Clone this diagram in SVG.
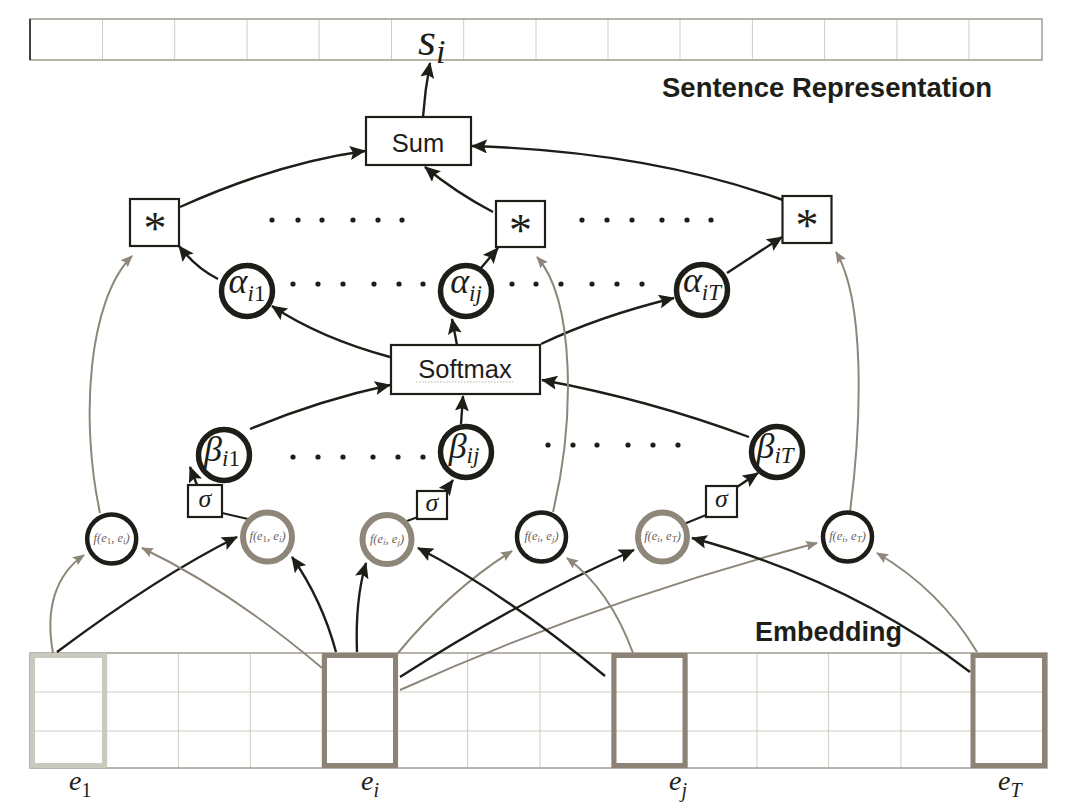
<svg xmlns="http://www.w3.org/2000/svg" width="1080" height="807" viewBox="0 0 1080 807">
<defs>
<marker id="ab" viewBox="0 0 16 14" refX="15" refY="7" markerWidth="16" markerHeight="14" orient="auto" markerUnits="userSpaceOnUse"><path d="M0,0 L16,7 L0,14 L3,7 Z" fill="#1e1e18"/></marker>
<marker id="ag" viewBox="0 0 12 10" refX="11" refY="5" markerWidth="12" markerHeight="10" orient="auto" markerUnits="userSpaceOnUse"><path d="M0,0 L12,5 L0,10 L2,5 Z" fill="#8f867a"/></marker>
<style>
.bg{fill:#ffffff}
.cell{stroke:#cfcdc2;stroke-width:1;fill:none}
.frame{stroke:#a19c90;stroke-width:1.5;fill:none}
.box{fill:#ffffff;stroke:#1e1e18;stroke-width:2.2}
.cd{fill:#ffffff;stroke:#1e1e18;stroke-width:5.5}
.fd{fill:#ffffff;stroke:#1e1e18;stroke-width:4.5}
.fg{fill:#ffffff;stroke:#8f867a;stroke-width:6}
.k{fill:none;stroke:#1e1e18;stroke-width:2.4;marker-end:url(#ab)}
.kn{fill:none;stroke:#1e1e18;stroke-width:2}
.g{fill:none;stroke:#8f867a;stroke-width:2;marker-end:url(#ag)}
.sans{font-family:'Liberation Sans',Arial,sans-serif;fill:#1e1e18}
.bold{font-family:'Liberation Sans',Arial,sans-serif;font-weight:bold;fill:#1e1e18}
.ser{font-family:'Liberation Serif','Times New Roman','DejaVu Serif',serif;font-style:italic;fill:#1e1e18}
.ast{font-family:'Liberation Serif','Times New Roman',serif;fill:#1e1e18;font-size:46px}
.ftx{font-family:'Liberation Serif','Times New Roman',serif;font-style:italic;fill:#6b6258;font-size:12.5px}
.dot{fill:#1e1e18}
</style>
</defs>
<rect class="bg" x="0" y="0" width="1080" height="807"/>

<g id="sentence-representation">
<path class="cell" d="M102.5,19V60M174.7,19V60M247,19V60M319,19V60M391.5,19V60M463.7,19V60M536,19V60M608,19V60M680,19V60M752.4,19V60M824.6,19V60M897,19V60M969,19V60"/>
<rect class="frame" x="30" y="19" width="1012" height="41"/>
<line x1="30" y1="19" x2="30" y2="60" stroke="#1e1e18" stroke-width="1.5"/>
<text class="ser" x="418" y="55" font-size="46">s<tspan font-size="34" dy="8">i</tspan></text>
<text class="bold" x="662" y="97" font-size="27.5">Sentence Representation</text>
</g>

<g id="embedding">
<path class="cell" d="M30,692H1047M30,731H1047M106.7,653V768M178.4,653V768M250.3,653V768M322,653V768M397.7,653V768M467.6,653V768M540,653V768M611.6,653V768M687.4,653V768M757,653V768M828.6,653V768M900.9,653V768M972,653V768"/>
<rect class="frame" x="30" y="653" width="1017" height="115"/>
<rect x="32.5" y="655.5" width="72" height="110" fill="none" stroke="#c9c9bd" stroke-width="5"/>
<rect x="324.5" y="655.5" width="71" height="110" fill="none" stroke="#8c8276" stroke-width="5"/>
<rect x="614" y="655.5" width="71" height="110" fill="none" stroke="#8c8276" stroke-width="5"/>
<rect x="973" y="655.5" width="71.5" height="110" fill="none" stroke="#8c8276" stroke-width="5"/>
<text class="bold" x="755" y="641" font-size="27">Embedding</text>
<text class="ser" x="69" y="790" font-size="28">e<tspan font-size="20" dy="7" font-style="normal">1</tspan></text>
<text class="ser" x="361" y="790" font-size="28">e<tspan font-size="20" dy="7">i</tspan></text>
<text class="ser" x="669" y="790" font-size="28">e<tspan font-size="20" dy="7">j</tspan></text>
<text class="ser" x="998" y="790" font-size="28">e<tspan font-size="20" dy="7">T</tspan></text>
</g>

<g id="connectors">
<path class="k" d="M423,117 Q425,90 430,63"/>
<path class="k" d="M180,207 C240,180 300,160 365,151"/>
<path class="k" d="M493,212 Q455,192 425,167"/>
<path class="k" d="M783,200 C700,170 600,150 472,146"/>
<path class="k" d="M218,279 Q196,268 179,246"/>
<path class="k" d="M481,268 L498,248"/>
<path class="k" d="M727,273 L782,237"/>
<path class="k" d="M390,357 Q320,338 272,306"/>
<path class="k" d="M457,345 L452,319"/>
<path class="k" d="M541,344 Q600,316 674,298"/>
<path class="k" d="M250,429 Q320,400 390,385"/>
<path class="k" d="M461,424 L463,396"/>
<path class="k" d="M749,437 Q650,400 542,380"/>
<path class="kn" d="M248,519 L222,513"/>
<path class="k" d="M197,485 L190,467"/>
<path class="kn" d="M407,521 L418,517"/>
<path class="k" d="M445,491 L453,480"/>
<path class="kn" d="M684,524 L706,515"/>
<path class="k" d="M737,487 L758,473"/>
<path class="g" d="M53,653 C45,610 55,575 84,555"/>
<path class="k" d="M57,652 Q160,575 237,537"/>
<path class="g" d="M322,668 Q230,590 142,548"/>
<path class="k" d="M336,652 Q322,600 292,557"/>
<path class="k" d="M357,652 Q355,600 366,563"/>
<path class="g" d="M398,653 Q450,590 512,551"/>
<path class="k" d="M400,677 Q520,600 634,550"/>
<path class="g" d="M400,690 Q600,600 817,543"/>
<path class="k" d="M605,676 Q500,590 418,548"/>
<path class="g" d="M633,653 Q610,590 567,558"/>
<path class="k" d="M970,672 Q850,580 692,538"/>
<path class="g" d="M977,652 Q940,590 877,553"/>
<path class="g" d="M100,513 C80,420 88,300 132,256"/>
<path class="g" d="M553,512 C575,420 575,300 537,257"/>
<path class="g" d="M850,512 C862,420 865,300 836,252"/>
</g>

<g id="sum">
<rect class="box" x="366" y="117" width="105" height="48"/>
<text class="sans" x="418" y="152" font-size="25.5" text-anchor="middle">Sum</text>
</g>
<g id="mul-1">
<rect class="box" x="130" y="199" width="49" height="47"/>
<text class="ast" x="155" y="244" text-anchor="middle">*</text>
</g>
<g id="mul-j">
<rect class="box" x="496" y="201" width="49" height="46"/>
<text class="ast" x="520.5" y="245.5" text-anchor="middle">*</text>
</g>
<g id="mul-T">
<rect class="box" x="782.5" y="196" width="49" height="47"/>
<text class="ast" x="807" y="241" text-anchor="middle">*</text>
</g>
<g id="dots">
<circle class="dot" cx="272" cy="220" r="2.6"/><circle class="dot" cx="298" cy="220" r="2.6"/><circle class="dot" cx="322" cy="220" r="2.6"/><circle class="dot" cx="353" cy="220" r="2.6"/><circle class="dot" cx="378" cy="220" r="2.6"/><circle class="dot" cx="402" cy="220" r="2.6"/>
<circle class="dot" cx="582" cy="220" r="2.6"/><circle class="dot" cx="607" cy="220" r="2.6"/><circle class="dot" cx="632" cy="220" r="2.6"/><circle class="dot" cx="662" cy="220" r="2.6"/><circle class="dot" cx="687" cy="220" r="2.6"/><circle class="dot" cx="711" cy="220" r="2.6"/>
<circle class="dot" cx="293" cy="284" r="2.6"/><circle class="dot" cx="318" cy="284" r="2.6"/><circle class="dot" cx="343" cy="284" r="2.6"/><circle class="dot" cx="374" cy="284" r="2.6"/><circle class="dot" cx="399" cy="284" r="2.6"/><circle class="dot" cx="423" cy="284" r="2.6"/>
<circle class="dot" cx="512" cy="284" r="2.6"/><circle class="dot" cx="536" cy="284" r="2.6"/><circle class="dot" cx="561" cy="284" r="2.6"/><circle class="dot" cx="592" cy="284" r="2.6"/><circle class="dot" cx="617" cy="284" r="2.6"/><circle class="dot" cx="642" cy="284" r="2.6"/>
<circle class="dot" cx="293" cy="457" r="2.6"/><circle class="dot" cx="318" cy="457" r="2.6"/><circle class="dot" cx="343" cy="457" r="2.6"/><circle class="dot" cx="373" cy="457" r="2.6"/><circle class="dot" cx="398" cy="457" r="2.6"/><circle class="dot" cx="423" cy="457" r="2.6"/>
<circle class="dot" cx="548" cy="445" r="2.6"/><circle class="dot" cx="573" cy="445" r="2.6"/><circle class="dot" cx="597" cy="445" r="2.6"/><circle class="dot" cx="628" cy="445" r="2.6"/><circle class="dot" cx="653" cy="445" r="2.6"/><circle class="dot" cx="678" cy="445" r="2.6"/>
</g>
<g id="alpha-i1">
<circle class="cd" cx="247" cy="291" r="25.5"/>
<text class="ser" x="247" y="293" font-size="36" text-anchor="middle">α<tspan font-size="23" dy="8">i</tspan><tspan font-size="23" font-style="normal">1</tspan></text>
</g>
<g id="alpha-ij">
<circle class="cd" cx="466" cy="291" r="25.5"/>
<text class="ser" x="466" y="293" font-size="36" text-anchor="middle">α<tspan font-size="23" dy="8">ij</tspan></text>
</g>
<g id="alpha-iT">
<circle class="cd" cx="702" cy="290" r="25.5"/>
<text class="ser" x="702" y="292" font-size="36" text-anchor="middle">α<tspan font-size="23" dy="8">iT</tspan></text>
</g>
<g id="softmax">
<rect class="box" x="391" y="345" width="149" height="49"/>
<text class="sans" x="465" y="378" font-size="25.5" text-anchor="middle">Softmax</text>
<line x1="416" y1="382" x2="513" y2="382" stroke="#b5b0a5" stroke-width="1.2" stroke-dasharray="1.5,1.5"/>
</g>
<g id="beta-i1">
<circle class="cd" cx="224" cy="455" r="25.5"/>
<text class="ser" x="222" y="461" font-size="36" text-anchor="middle">β<tspan font-size="23" dy="5">i</tspan><tspan font-size="23" font-style="normal">1</tspan></text>
</g>
<g id="beta-ij">
<circle class="cd" cx="466" cy="452" r="25.5"/>
<text class="ser" x="464" y="458" font-size="36" text-anchor="middle">β<tspan font-size="23" dy="5">ij</tspan></text>
</g>
<g id="beta-iT">
<circle class="cd" cx="777" cy="452" r="25.5"/>
<text class="ser" x="775" y="458" font-size="36" text-anchor="middle">β<tspan font-size="23" dy="5">iT</tspan></text>
</g>
<g id="sigma-1">
<rect class="box" x="188" y="485" width="34" height="32"/>
<text class="ser" x="205" y="507" font-size="26" text-anchor="middle">σ</text>
</g>
<g id="sigma-j">
<rect class="box" x="417" y="491" width="30" height="28"/>
<text class="ser" x="432" y="511" font-size="26" text-anchor="middle">σ</text>
</g>
<g id="sigma-T">
<rect class="box" x="706" y="486" width="31" height="31"/>
<text class="ser" x="721.5" y="507" font-size="26" text-anchor="middle">σ</text>
</g>
<g id="f-1i-dark">
<circle class="fd" cx="111.7" cy="539" r="24.5"/>
<text class="ftx" x="111.7" y="542" text-anchor="middle">f(e<tspan font-size="9" dy="2" font-style="normal">1</tspan><tspan dy="-2">, e</tspan><tspan font-size="9" dy="2">i</tspan><tspan dy="-2">)</tspan></text>
</g>
<g id="f-1i-gray">
<circle class="fg" cx="267.5" cy="537" r="24.5"/>
<text class="ftx" x="267.5" y="540" text-anchor="middle">f(e<tspan font-size="9" dy="2" font-style="normal">1</tspan><tspan dy="-2">, e</tspan><tspan font-size="9" dy="2">i</tspan><tspan dy="-2">)</tspan></text>
</g>
<g id="f-ij-gray">
<circle class="fg" cx="387" cy="539.5" r="24.5"/>
<text class="ftx" x="387" y="542.5" text-anchor="middle">f(e<tspan font-size="9" dy="2">i</tspan><tspan dy="-2">, e</tspan><tspan font-size="9" dy="2">j</tspan><tspan dy="-2">)</tspan></text>
</g>
<g id="f-ij-dark">
<circle class="fd" cx="541.5" cy="537" r="24.5"/>
<text class="ftx" x="541.5" y="540" text-anchor="middle">f(e<tspan font-size="9" dy="2">i</tspan><tspan dy="-2">, e</tspan><tspan font-size="9" dy="2">j</tspan><tspan dy="-2">)</tspan></text>
</g>
<g id="f-iT-gray">
<circle class="fg" cx="662.5" cy="537" r="24.5"/>
<text class="ftx" x="662.5" y="540" text-anchor="middle">f(e<tspan font-size="9" dy="2">i</tspan><tspan dy="-2">, e</tspan><tspan font-size="9" dy="2">T</tspan><tspan dy="-2">)</tspan></text>
</g>
<g id="f-iT-dark">
<circle class="fd" cx="847.5" cy="537" r="24.5"/>
<text class="ftx" x="847.5" y="540" text-anchor="middle">f(e<tspan font-size="9" dy="2">i</tspan><tspan dy="-2">, e</tspan><tspan font-size="9" dy="2">T</tspan><tspan dy="-2">)</tspan></text>
</g>
</svg>
